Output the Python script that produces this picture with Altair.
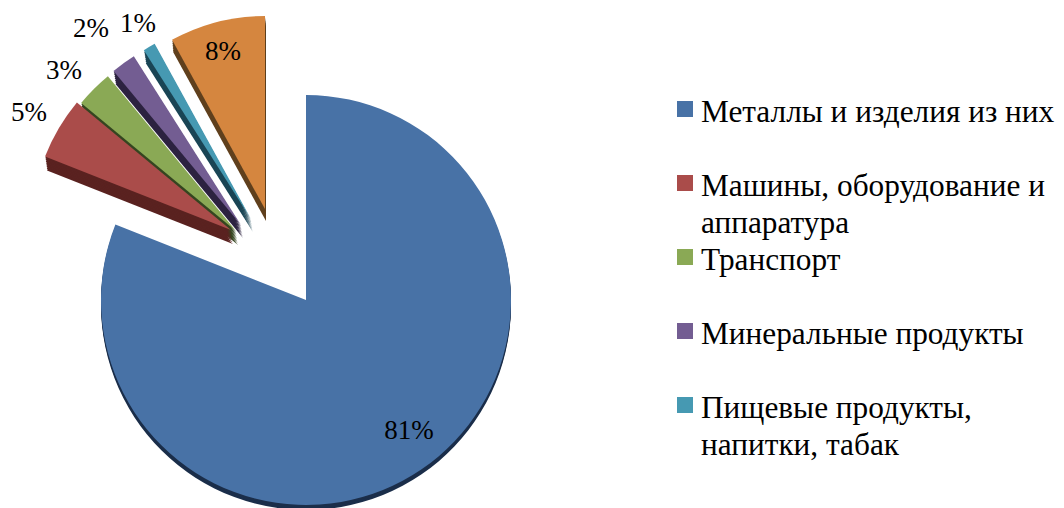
import altair as alt
import pandas as pd

categories = ["Металлы и изделия из них", "Машины, оборудование и", "Транспорт",
              "Минеральные продукты", "Пищевые продукты,", "Прочие"]
legend_labels = ["Металлы и изделия из них", "Машины, оборудование и\nаппаратура", "Транспорт",
                 "Минеральные продукты", "Пищевые продукты,\nнапитки, табак"]
values = [81, 5, 3, 2, 1, 8]
labels = ["81%", "5%", "3%", "2%", "1%", "8%"]
colors = ["#4872A6", "#AA4C4A", "#8AA955", "#735D92", "#4699B2", "#D5863F"]
rims = ["#1B2E4A", "#5A2220", "#354520", "#2C2240", "#1A4555", "#60401E"]

M = 8  # page margin
centers = [(306, 300), (231, 230), (236, 231), (241, 225), (251, 219), (265, 209)]
radii = [205, 200, 201, 200, 200, 193]
depths = [(0, 5), (2, 14), (2, 14), (2, 13), (2, 13), (1, 12)]
label_pos = [(409, 431), (29, 113), (64, 71), (91, 29), (138, 24), (223, 52)]
FONT = "Liberation Serif"

starts, ends, total = [], [], 0
for v in values:
    starts.append(total)
    total += v
    ends.append(total)

theta_scale = alt.Scale(domain=[0, 100], range=[0, 6.283185307])
layers = []
for i in [5, 4, 3, 2, 1, 0]:
    row = pd.DataFrame({"start": [starts[i]], "end": [ends[i]]})
    base = alt.Chart(row)
    cx, cy = centers[i]
    dx, dy = depths[i]
    steps = max(dy // 2, 1) + 1
    for s in range(steps, 0, -1):
        f = s / steps
        layers.append(base.mark_arc(radius=radii[i], color=rims[i]).encode(
            theta=alt.Theta("start:Q", scale=theta_scale),
            theta2="end:Q",
            x=alt.value(cx - M + dx * f),
            y=alt.value(cy - M + dy * f),
        ))
    layers.append(base.mark_arc(radius=radii[i], color=colors[i]).encode(
        theta=alt.Theta("start:Q", scale=theta_scale),
        theta2="end:Q",
        x=alt.value(cx - M),
        y=alt.value(cy - M),
    ))

for i, t in enumerate(labels):
    layers.append(alt.Chart(pd.DataFrame({"t": [t]})).mark_text(
        font=FONT, fontSize=27, color="black", align="center", baseline="middle"
    ).encode(text="t:N", x=alt.value(label_pos[i][0] - M), y=alt.value(label_pos[i][1] - M)))

legend_df = pd.DataFrame({
    "row": list(range(len(legend_labels))),
    "label": legend_labels,
    "color": colors[:len(legend_labels)],
})
row_y = alt.Y("row:Q", scale=alt.Scale(domain=[0, 4], range=[109 - M, 405 - M]), axis=None)
layers.append(alt.Chart(legend_df).mark_square(size=256, opacity=1).encode(
    x=alt.value(685 - M), y=row_y, color=alt.Color("color:N", scale=None, legend=None)))
layers.append(alt.Chart(legend_df).mark_text(
    font=FONT, fontSize=31.3, color="black", align="left", baseline="alphabetic",
    lineBreak="\n", lineHeight=37, dy=13
).encode(x=alt.value(701 - M), y=row_y, text="label:N"))

chart = alt.layer(*layers).properties(
    width=1048, height=500, padding=0, autosize=alt.AutoSizeParams(type="none"),
).configure_view(stroke=None, clip=False)
chart.save("out.html", embed_options={"renderer": "svg", "actions": False})
